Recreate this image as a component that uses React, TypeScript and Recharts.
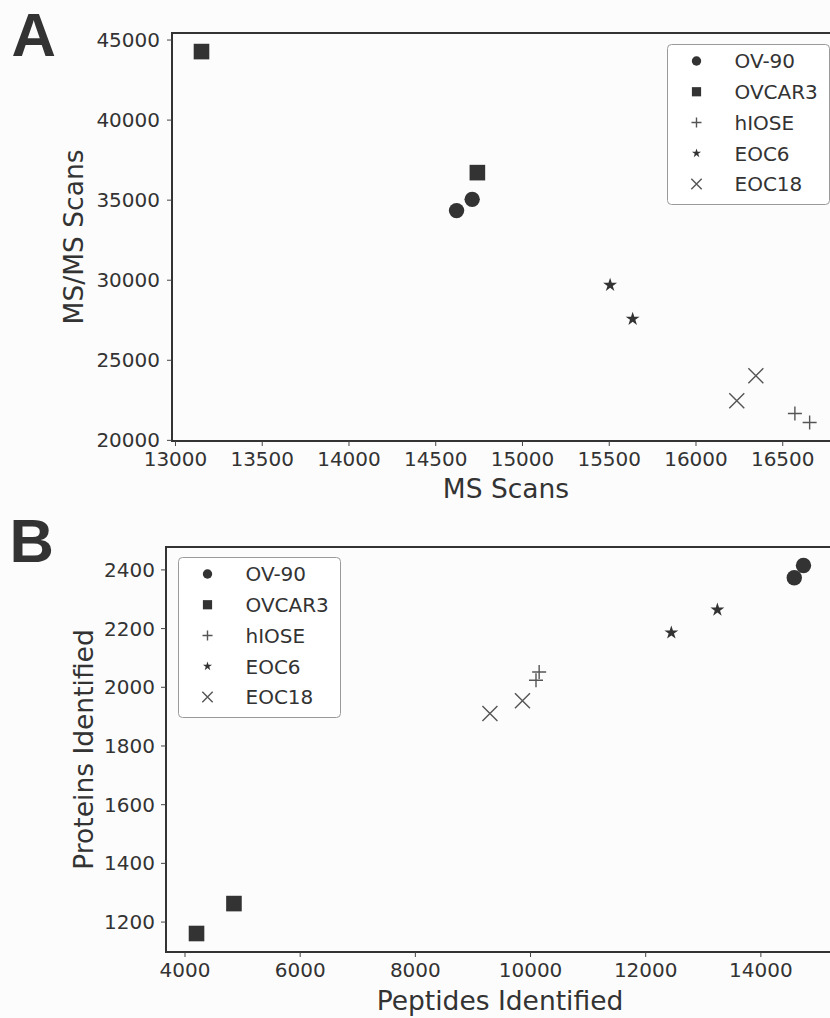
import React from 'react'
import { ScatterChart, Scatter, XAxis, YAxis, Legend, ReferenceArea, Label } from 'recharts'

const groups = ['OV-90', 'OVCAR3', 'hIOSE', 'EOC6', 'EOC18']
const markers = ['circle', 'square', 'plus', 'star', 'cross']

// panel A: MS scans vs MS/MS scans, two replicates per line
const msScans = [
  [14710, 14620],
  [13150, 14740],
  [16570, 16655],
  [15505, 15635],
  [16235, 16345],
]
const msmsScans = [
  [35050, 34350],
  [44280, 36720],
  [21680, 21120],
  [29700, 27580],
  [22480, 24040],
]
const msTicks = [13000, 13500, 14000, 14500, 15000, 15500, 16000, 16500]
const msmsTicks = [20000, 25000, 30000, 35000, 40000, 45000]

// panel B: peptides vs proteins identified
const peptides = [
  [14740, 14580],
  [4200, 4850],
  [10150, 10095],
  [13245, 12445],
  [9860, 9295],
]
const proteins = [
  [2415, 2373],
  [1161, 1263],
  [2052, 2024],
  [2264, 2186],
  [1954, 1911],
]
const peptideTicks = [4000, 6000, 8000, 10000, 12000, 14000]
const proteinTicks = [1200, 1400, 1600, 1800, 2000, 2200, 2400]

const INK = '#333'
const THIN = '#555'
const FONT = 'DejaVu Sans'

const plotSize: Record<string, number> = { circle: 7.7, square: 7.8, plus: 7, star: 7.3, cross: 7.5 }
const legendSize: Record<string, number> = { circle: 4.7, square: 4.6, plus: 5, star: 4.8, cross: 5.2 }

function drawMarker(kind: string, cx: number, cy: number, s: number) {
  switch (kind) {
    case 'circle':
      return <circle cx={cx} cy={cy} r={s} fill={INK} />
    case 'square':
      return <rect x={cx - s} y={cy - s} width={2 * s} height={2 * s} fill={INK} />
    case 'plus':
      return (
        <path d={`M${cx - s},${cy}H${cx + s}M${cx},${cy - s}V${cy + s}`} stroke={THIN} strokeWidth={1.4} fill="none" />
      )
    case 'cross':
      return (
        <path
          d={`M${cx - s},${cy - s}L${cx + s},${cy + s}M${cx - s},${cy + s}L${cx + s},${cy - s}`}
          stroke={THIN}
          strokeWidth={1.4}
          fill="none"
        />
      )
    default: {
      const pts: string[] = []
      for (let k = 0; k < 10; k++) {
        const r = k % 2 === 0 ? s : s * 0.382
        const a = -Math.PI / 2 + (k * Math.PI) / 5
        pts.push(`${cx + r * Math.cos(a)},${cy + r * Math.sin(a)}`)
      }
      return <polygon points={pts.join(' ')} fill={INK} />
    }
  }
}

function LegendBox() {
  return (
    <svg width={164} height={162} style={{ display: 'block' }}>
      <rect x={0.5} y={0.5} width={162} height={160} rx={4} fill="#fff" stroke="#9a9a9a" />
      {groups.map((g, i) => {
        const cy = 17 + i * 30.75
        return (
          <g key={g}>
            {drawMarker(markers[i], 29.5, cy, legendSize[markers[i]])}
            <text x={67.5} y={cy + 7.3} fontSize={20} fontFamily={FONT} fill={INK}>
              {g}
            </text>
          </g>
        )
      })}
    </svg>
  )
}

const tickStyle = { fontSize: 20, fill: INK, fontFamily: FONT }

function series(xs: number[][], ys: number[][]) {
  return groups.map((g, i) => ({
    name: g,
    kind: markers[i],
    points: xs[i].map((x, j) => ({ x, y: ys[i][j] })),
  }))
}

const seriesA = series(msScans, msmsScans)
const seriesB = series(peptides, proteins)

function xLabel(text: string, baseOffset: number) {
  return (props: any) => {
    const vb = props.viewBox
    return (
      <text x={vb.x + vb.width / 2} y={vb.y + baseOffset} textAnchor="middle" fontSize={26.5} fontFamily={FONT} fill={INK}>
        {text}
      </text>
    )
  }
}

function yLabel(text: string, baseX: number) {
  return (props: any) => {
    const vb = props.viewBox
    const cy = vb.y + vb.height / 2
    return (
      <text
        x={baseX}
        y={cy}
        transform={`rotate(-90 ${baseX} ${cy})`}
        textAnchor="middle"
        fontSize={26.5}
        fontFamily={FONT}
        fill={INK}
      >
        {text}
      </text>
    )
  }
}

export default function App() {
  return (
    <div
      style={{
        position: 'absolute',
        left: 0,
        top: 0,
        width: 830,
        height: 1018,
        overflow: 'hidden',
        background: '#fcfcfc',
      }}
    >
      <div style={{ position: 'absolute', left: 0, top: 0 }}>
        <ScatterChart width={850} height={512} margin={{ top: 33, right: 10, bottom: 12, left: 0 }}>
          <XAxis
            dataKey="x"
            type="number"
            domain={[12980, 16830]}
            ticks={msTicks}
            interval={0}
            axisLine={false}
            tickSize={5}
            tickMargin={6}
            tickLine={{ stroke: '#444' }}
            tick={tickStyle}
            height={59}
          >
            <Label content={xLabel('MS Scans', 57)} />
          </XAxis>
          <YAxis
            dataKey="y"
            type="number"
            domain={[19960, 45440]}
            ticks={msmsTicks}
            interval={0}
            axisLine={false}
            tickSize={5}
            tickMargin={7}
            tickLine={{ stroke: '#444' }}
            tick={tickStyle}
            width={172}
          >
            <Label content={yLabel('MS/MS Scans', 83.3)} />
          </YAxis>
          <ReferenceArea
            x1={12980}
            x2={16830}
            y1={19960}
            y2={45440}
            fill="none"
            stroke={INK}
            strokeWidth={2}
            ifOverflow="visible"
          />
          {seriesA.map((s) => (
            <Scatter
              key={s.name}
              name={s.name}
              data={s.points}
              isAnimationActive={false}
              shape={(p: any) => <g>{drawMarker(s.kind, p.cx, p.cy, plotSize[s.kind])}</g>}
            />
          ))}
          <Legend
            layout="vertical"
            align="center"
            verticalAlign="middle"
            wrapperStyle={{ left: 666.7, top: 44.3 }}
            content={() => <LegendBox />}
          />
          <text x={11.5} y={55.5} fontSize={61.5} fontWeight="bold" fontFamily="Liberation Sans" fill={INK}>
            A
          </text>
        </ScatterChart>
      </div>

      <div style={{ position: 'absolute', left: 0, top: 500 }}>
        <ScatterChart width={850} height={518} margin={{ top: 47, right: 16, bottom: 0, left: 0 }}>
          <XAxis
            dataKey="x"
            type="number"
            domain={[3670, 15270]}
            ticks={peptideTicks}
            interval={0}
            axisLine={false}
            tickSize={5}
            tickMargin={6}
            tickLine={{ stroke: '#444' }}
            tick={tickStyle}
            height={66}
          >
            <Label content={xLabel('Peptides Identified', 57.5)} />
          </XAxis>
          <YAxis
            dataKey="y"
            type="number"
            domain={[1098, 2478]}
            ticks={proteinTicks}
            interval={0}
            axisLine={false}
            tickSize={5}
            tickMargin={6}
            tickLine={{ stroke: '#444' }}
            tick={tickStyle}
            width={166}
          >
            <Label content={yLabel('Proteins Identified', 93.3)} />
          </YAxis>
          <ReferenceArea
            x1={3670}
            x2={15270}
            y1={1098}
            y2={2478}
            fill="none"
            stroke={INK}
            strokeWidth={2}
            ifOverflow="visible"
          />
          {seriesB.map((s) => (
            <Scatter
              key={s.name}
              name={s.name}
              data={s.points}
              isAnimationActive={false}
              shape={(p: any) => <g>{drawMarker(s.kind, p.cx, p.cy, plotSize[s.kind])}</g>}
            />
          ))}
          <Legend
            layout="vertical"
            align="center"
            verticalAlign="middle"
            wrapperStyle={{ left: 177.7, top: 56.7 }}
            content={() => <LegendBox />}
          />
          <text x={9.5} y={61.7} fontSize={61.5} fontWeight="bold" fontFamily="Liberation Sans" fill={INK}>
            B
          </text>
        </ScatterChart>
      </div>
    </div>
  )
}
